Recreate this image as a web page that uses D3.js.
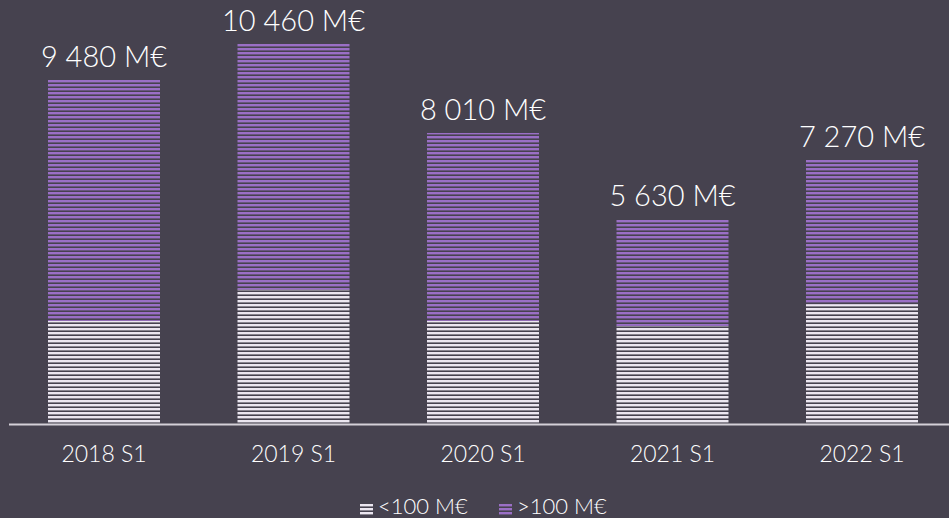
<!DOCTYPE html>
<html>
<head>
<meta charset="utf-8">
<script src="https://cdn.jsdelivr.net/npm/d3@7"></script>
<style>
html,body{margin:0;padding:0;background:#46424f;}
svg{display:block;}
text{font-family:Lato,"Open Sans",sans-serif;font-weight:300;fill:#ffffff;}
</style>
</head>
<body>
<svg id="chart" width="949" height="518"></svg>
<script>
const categories = ["2018 S1","2019 S1","2020 S1","2021 S1","2022 S1"];
const totals = [9480, 10460, 8010, 5630, 7270];
const under100 = [2840, 3700, 2840, 2700, 3300];
const over100 = totals.map((t,i)=>t-under100[i]);
const totalLabels = ["9 480 M€","10 460 M€","8 010 M€","5 630 M€","7 270 M€"];
const seriesNames = ["<100 M€", ">100 M€"];
const colors = ["#ebe6f0", "#9a6fc6"];

const W = 949, H = 518;
const svg = d3.select("#chart");
const defs = svg.append("defs");
colors.forEach((c,i)=>{
  const p = defs.append("pattern").attr("id","stripe"+i)
    .attr("patternUnits","userSpaceOnUse").attr("width",8).attr("height",4);
  p.append("rect").attr("x",0).attr("y",0).attr("width",8).attr("height",2.4).attr("fill",c);
});

const baseline = 424;
const x = d3.scaleBand().domain(categories).range([9.25, 956.75])
  .paddingInner(0.409).paddingOuter(0.2045);
const y = d3.scaleLinear().domain([0, 11000]).range([baseline, baseline - 11000*0.03633]);

const stackData = categories.map((c,i)=>({cat:c, a:under100[i], b:over100[i]}));
const stack = d3.stack().keys(["a","b"])(stackData);

const g = svg.append("g");
stack.forEach((layer, li)=>{
  g.selectAll(null).data(layer).enter().append("rect")
    .attr("x", d=>x(d.data.cat))
    .attr("width", x.bandwidth())
    .attr("y", d=>y(d[1]))
    .attr("height", d=>y(d[0])-y(d[1]))
    .attr("fill", "url(#stripe"+li+")");
});

// total labels
g.selectAll(null).data(categories).enter().append("text")
  .attr("x", c=>x(c)+x.bandwidth()/2)
  .attr("y", (c,i)=>y(totals[i]) - 13)
  .attr("text-anchor","middle")
  .style("font-size","29px")
  .text((c,i)=>totalLabels[i]);

// axis
const axis = d3.axisBottom(x).tickSize(0).tickPadding(22);
const ax = svg.append("g").attr("transform",`translate(0,${baseline})`).call(axis);
ax.select(".domain").remove();
ax.selectAll("text").style("font-size","23px").attr("fill","#ffffff").style("font-family","Lato,sans-serif").style("font-weight","300");
svg.append("line").attr("x1",9).attr("x2",949).attr("y1",baseline+0.5).attr("y2",baseline+0.5)
  .attr("stroke","#d4d0d8").attr("stroke-width",2);

// legend
const leg = svg.append("g");
const legItems = [{x:360, name:seriesNames[0], i:0},{x:499, name:seriesNames[1], i:1}];
legItems.forEach(it=>{
  leg.append("rect").attr("x",it.x).attr("y",503).attr("width",13).attr("height",12).attr("fill","url(#stripe"+it.i+")");
  leg.append("text").attr("x",it.x+18).attr("y",514).style("font-size","22px").text(it.name);
});
</script>
</body>
</html>
